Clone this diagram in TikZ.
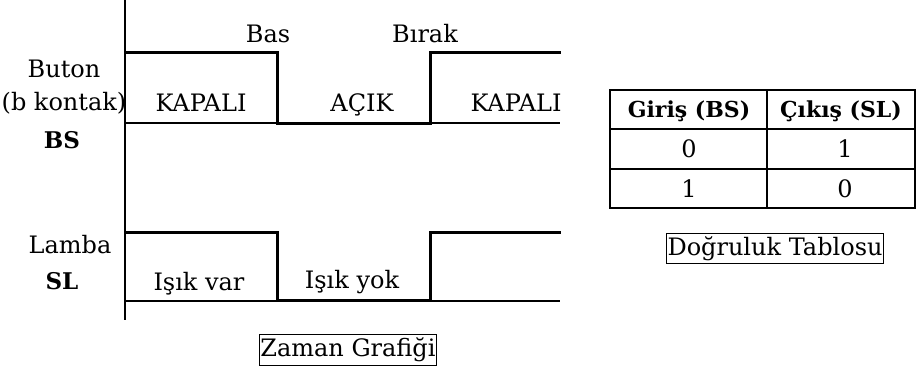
\documentclass[tikz,border=0pt]{standalone}
\usepackage{fontspec}
\setmainfont{DejaVu Serif}
\begin{document}
\begin{tikzpicture}[x=1pt,y=-1pt,
  txt/.style={inner sep=0pt, anchor=base, font=\fontsize{24}{28}\selectfont},
  btxt/.style={inner sep=0pt, anchor=base, font=\fontsize{23}{27}\selectfont\bfseries},
  htxt/.style={inner sep=0pt, anchor=base, font=\fontsize{22}{26}\selectfont\bfseries},
  signal/.style={line width=3pt, line join=miter},
  axisline/.style={line width=1.2pt},
  gridline/.style={line width=1.4pt},
  caption/.style={draw, line width=1pt, inner xsep=1pt, inner ysep=3pt,
    font=\fontsize{24}{28}\selectfont}
]
\useasboundingbox (0,0) rectangle (918,373);

% time axis
\draw[axisline] (125,0) -- (125,320);

% BS: normally closed button contact
\draw[axisline] (125,123) -- (560,123);
\draw[signal] (125,52) -- (277,52) -- (277,123) -- (430,123) -- (430,52) -- (561,52);

% SL: lamp
\draw[axisline] (125,301) -- (560,301);
\draw[signal] (125,232) -- (277,232) -- (277,300) -- (430,300) -- (430,232) -- (561,232);

% events
\node[txt] (bas) at (268,42) {Bas};
\node[txt] (birak) at (425,42) {Bırak};

% signal names
\node[txt] (buton) at (64,77) {Buton};
\node[txt] (bkontak) at (64,110) {(b kontak)};
\node[btxt] (bs) at (62,148) {BS};
\node[txt] (lamba) at (70,253) {Lamba};
\node[btxt] (sl) at (62,289) {SL};

% states
\node[txt] (kapali1) at (201,111) {KAPALI};
\node[txt] (acik) at (362,111) {AÇIK};
\node[txt] (kapali2) at (516,111) {KAPALI};
\node[txt] (isikvar) at (199,290) {Işık var};
\node[txt] (isikyok) at (352,288) {Işık yok};

\node[caption] (zaman) at (348,350) {Zaman Grafiği};

% truth table
\draw[gridline] (610,90) rectangle (915,208);
\draw[gridline] (767,90) -- (767,208);
\draw[gridline] (610,129) -- (915,129);
\draw[gridline] (610,169) -- (915,169);
\node[htxt] (h1) at (689,117) {Giriş (BS)};
\node[htxt] (h2) at (841,117) {Çıkış (SL)};
\node[txt] (a1) at (689,157) {0};
\node[txt] (b1) at (845,157) {1};
\node[txt] (a2) at (689,197) {1};
\node[txt] (b2) at (845,197) {0};

\node[caption] (dogruluk) at (775,248.5) {Doğruluk Tablosu};
\end{tikzpicture}
\end{document}
